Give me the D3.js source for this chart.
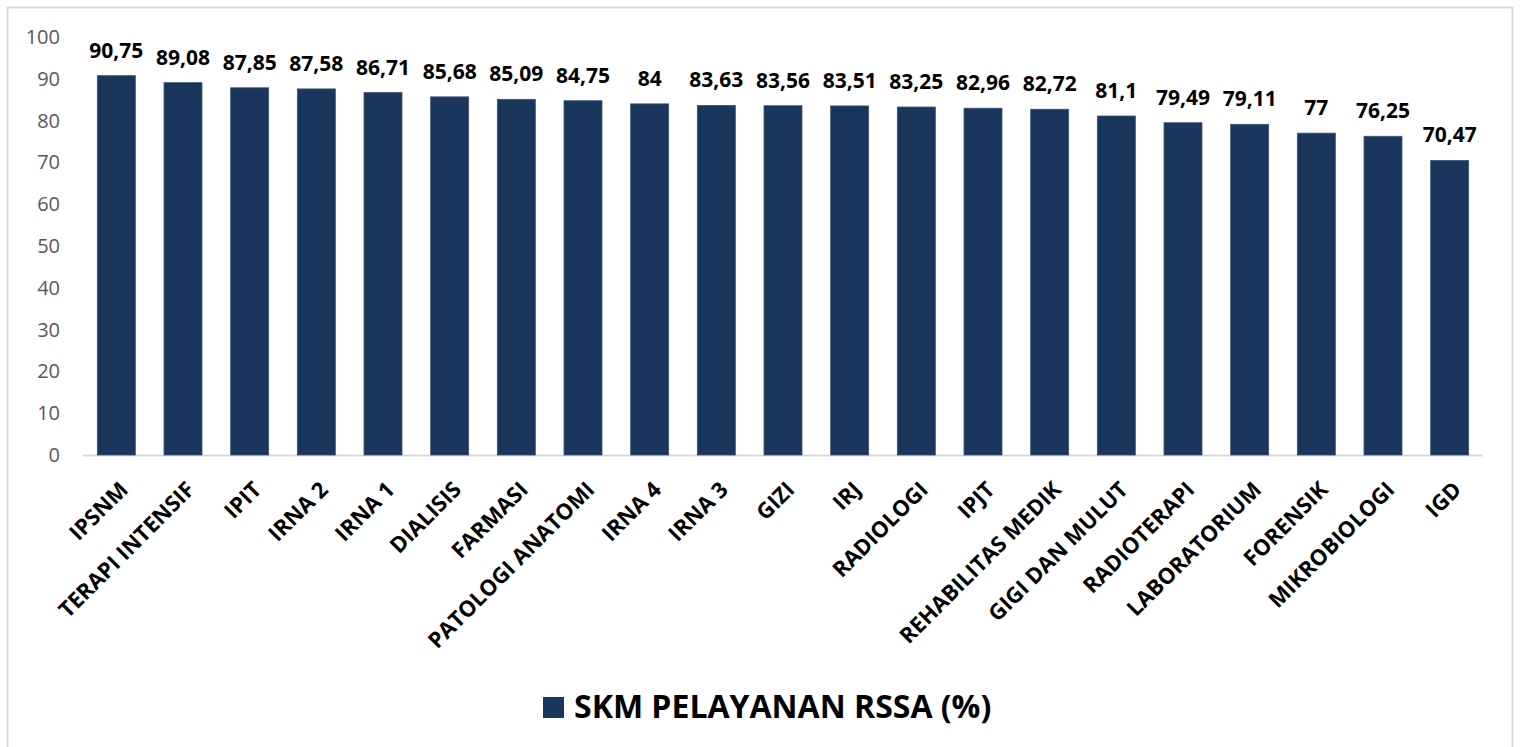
<!DOCTYPE html>
<html>
<head>
<meta charset="utf-8">
<script src="https://cdn.jsdelivr.net/npm/d3@7"></script>
<style>
  html, body { margin: 0; padding: 0; background: #fff; }
  svg { display: block; font-family: "Open Sans", sans-serif; }
</style>
</head>
<body>
<div id="chart"></div>
<script>
const categories = ["IPSNM", "TERAPI INTENSIF", "IPIT", "IRNA 2", "IRNA 1", "DIALISIS", "FARMASI",
    "PATOLOGI ANATOMI", "IRNA 4", "IRNA 3", "GIZI", "IRJ", "RADIOLOGI", "IPJT", "REHABILITAS MEDIK",
    "GIGI DAN MULUT", "RADIOTERAPI", "LABORATORIUM", "FORENSIK", "MIKROBIOLOGI", "IGD"];
const values = [90.75, 89.08, 87.85, 87.58, 86.71, 85.68, 85.09, 84.75, 84, 83.63, 83.56,
    83.51, 83.25, 82.96, 82.72, 81.1, 79.49, 79.11, 77, 76.25, 70.47];
const yTicks = [0, 10, 20, 30, 40, 50, 60, 70, 80, 90, 100];
const seriesName = "SKM PELAYANAN RSSA (%)";

const WIDTH = 1520;
const HEIGHT = 747;
const MARGIN = { top: 37, right: 37, bottom: 292, left: 83 };
const BAR_COLOR = "#1b365d";

const rows = categories.map((name, i) => ({ name, value: values[i] }));

const svg = d3.select("#chart")
    .append("svg")
    .attr("width", WIDTH)
    .attr("height", HEIGHT);

// chart area border
svg.append("rect")
    .attr("x", 7.5)
    .attr("y", 7.5)
    .attr("width", 1505)
    .attr("height", 760)
    .attr("fill", "none")
    .attr("stroke", "#d9d9d9")
    .attr("stroke-width", 2);

const x = d3.scaleBand()
    .domain(categories)
    .range([MARGIN.left, WIDTH - MARGIN.right])
    .paddingInner(0.43)
    .paddingOuter(0.215);

const y = d3.scaleLinear()
    .domain([0, 100])
    .range([HEIGHT - MARGIN.bottom, MARGIN.top]);

// y axis labels only
const yAxis = svg.append("g")
    .attr("transform", `translate(${MARGIN.left - 23},0)`)
    .call(d3.axisLeft(y).tickValues(yTicks).tickSize(0).tickPadding(0));
yAxis.select(".domain").remove();
yAxis.selectAll("text")
    .attr("fill", "#595959")
    .style("font-size", "20px")
    .style("font-family", "'Open Sans', sans-serif");

// baseline
svg.append("line")
    .attr("x1", MARGIN.left)
    .attr("x2", WIDTH - MARGIN.right)
    .attr("y1", y(0) + 0.5)
    .attr("y2", y(0) + 0.5)
    .attr("stroke", "#d9d9d9")
    .attr("stroke-width", 2);

// bars
svg.append("g")
    .selectAll("rect")
    .data(rows)
    .enter()
    .append("rect")
    .attr("x", d => x(d.name))
    .attr("y", d => y(d.value))
    .attr("width", x.bandwidth())
    .attr("height", d => y(0) - y(d.value))
    .attr("fill", BAR_COLOR)
    .attr("stroke", "#3c5478")
    .attr("stroke-width", 0.8);

// value labels
svg.append("g")
    .selectAll("text")
    .data(rows)
    .enter()
    .append("text")
    .attr("x", d => x(d.name) + x.bandwidth() / 2)
    .attr("y", d => y(d.value) - 18)
    .attr("text-anchor", "middle")
    .attr("fill", "#000")
    .style("font-size", "21px")
    .style("font-weight", "bold")
    .text(d => String(d.value).replace(".", ","));

// x category labels, rotated
svg.append("g")
    .selectAll("text")
    .data(rows)
    .enter()
    .append("text")
    .attr("transform", d => `translate(${x(d.name) + x.bandwidth() / 2 + 13},${y(0) + 36}) rotate(-45)`)
    .attr("text-anchor", "end")
    .attr("fill", "#000")
    .style("font-size", "22px")
    .style("font-weight", "bold")
    .text(d => d.name);

// legend
const legend = svg.append("g")
    .attr("transform", "translate(543,697)");

legend.append("rect")
    .attr("width", 21)
    .attr("height", 21)
    .attr("fill", BAR_COLOR);

legend.append("text")
    .attr("x", 31)
    .attr("y", 21)
    .attr("fill", "#000")
    .style("font-size", "32px")
    .style("font-weight", "bold")
    .text(seriesName);
</script>
</body>
</html>
